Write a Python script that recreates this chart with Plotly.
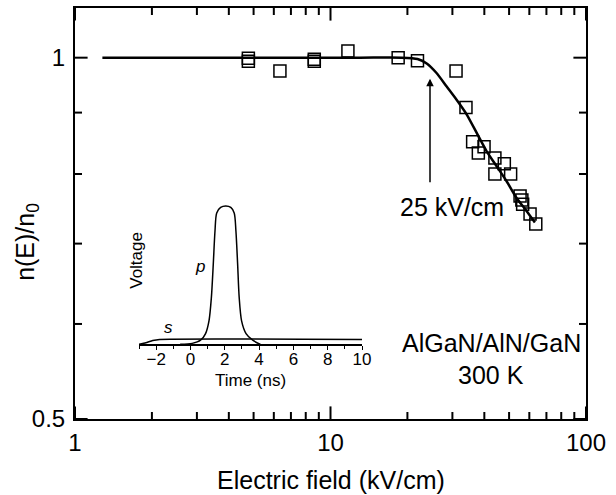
import math
import plotly.graph_objects as go

# ---- main data ----
E_data = [4.77, 4.77, 6.34, 8.64, 8.64, 11.7, 18.4, 21.9, 31.0, 33.9, 36.0, 37.9,
          39.9, 44.0, 44.0, 47.9, 50.7, 55.2, 56.1, 56.5, 60.4, 63.6]
n_data = [0.999, 0.993, 0.975, 0.997, 0.993, 1.013, 1.0, 0.994, 0.975, 0.909, 0.851, 0.833,
          0.843, 0.825, 0.800, 0.816, 0.800, 0.767, 0.761, 0.755, 0.741, 0.727]

E_fit = [1.28, 13.0, 19.0, 21.9, 23.8, 26.0, 28.5, 31.2, 34.1, 37.3, 40.8, 44.7, 48.9, 53.5, 58.6, 63.1]
n_fit = [1.0, 1.0, 1.0, 0.9975, 0.989, 0.971, 0.946, 0.922, 0.897, 0.866, 0.836, 0.812, 0.789, 0.764, 0.745, 0.729]

x_major = [1, 10, 100]
x_minor = [2, 3, 4, 5, 6, 7, 8, 9, 20, 30, 40, 50, 60, 70, 80, 90]
y_major = [0.5, 1]
y_minor = [0.6, 0.7, 0.8, 0.9]

# ---- inset data ----
t_p = [-0.6, 0.1, 0.59, 0.88, 1.08, 1.22, 1.33, 1.43, 1.53, 1.76, 2.06, 2.35, 2.55, 2.65,
       2.75, 2.84, 2.98, 3.24, 3.63, 4.08]
v_p = [0, 0.007, 0.03, 0.078, 0.17, 0.34, 0.58, 0.82, 0.95, 0.99, 1.0, 0.99, 0.95, 0.82,
       0.58, 0.34, 0.17, 0.078, 0.03, 0]
t_s = [-3, -2.6, -2.2, -1.8, 10]
v_s = [0, 0.012, 0.028, 0.036, 0.036]
t_ticks = [-2, 0, 2, 4, 6, 8, 10]

FONT = "Liberation Sans, Arial, sans-serif"

# pixel geometry helpers
L, R, T, B = 75, 586, 6, 419
W, H = 616, 495
def px(x):
    return (x - L) / (R - L)
def py(y):
    return (B - y) / (B - T)

X_MIN, X_MAX = 1, 100
Y_MIN, Y_MAX = 0.5, 1.10

fig = go.Figure()

fig.add_trace(go.Scatter(x=E_fit, y=n_fit, mode="lines",
                         line=dict(color="black", width=2.5, shape="spline", smoothing=0.6),
                         hoverinfo="skip", showlegend=False))
fig.add_trace(go.Scatter(x=E_data, y=n_data, mode="markers",
                         marker=dict(symbol="square-open", size=12, color="black",
                                     line=dict(width=1.5, color="black")),
                         showlegend=False))

# inward tick marks: line markers centred on the frame, clipped to the plot area
def tick_trace(xs, ys, symbol, size):
    return go.Scatter(x=xs, y=ys, mode="markers", cliponaxis=True,
                      marker=dict(symbol=symbol, size=size, color="black",
                                  line=dict(width=2, color="black")),
                      hoverinfo="skip", showlegend=False)

for vals, size in ((x_major, 18), (x_minor, 10)):
    fig.add_trace(tick_trace(vals, [Y_MIN] * len(vals), "line-ns-open", size))
    fig.add_trace(tick_trace(vals, [Y_MAX] * len(vals), "line-ns-open", size))
for vals, size in ((y_major, 18), (y_minor, 10)):
    fig.add_trace(tick_trace([X_MIN] * len(vals), vals, "line-ew-open", size))
    fig.add_trace(tick_trace([X_MAX] * len(vals), vals, "line-ew-open", size))

# inset traces
fig.add_trace(go.Scatter(x=t_p, y=v_p, mode="lines", xaxis="x2", yaxis="y2",
                         line=dict(color="black", width=1.5, shape="spline", smoothing=0.8),
                         showlegend=False))
fig.add_trace(go.Scatter(x=t_s, y=v_s, mode="lines", xaxis="x2", yaxis="y2",
                         line=dict(color="black", width=1.5, shape="spline", smoothing=0.5),
                         showlegend=False))

def main_axis(**kw):
    d = dict(type="log", showline=True, linecolor="black", linewidth=2, mirror=True,
             ticks="", showgrid=False, zeroline=False, tickformat="~g",
             tickfont=dict(family=FONT, size=24, color="black"))
    d.update(kw)
    return d

fig.update_layout(
    width=W, height=H,
    margin=dict(l=L, r=W - R, t=T, b=H - B),
    paper_bgcolor="white", plot_bgcolor="white",
    xaxis=main_axis(range=[math.log10(X_MIN), math.log10(X_MAX)], tickmode="linear",
                    tick0=0, dtick=1, ticklabelstandoff=1),
    yaxis=main_axis(range=[math.log10(Y_MIN), math.log10(Y_MAX)], tickmode="linear",
                    tick0=math.log10(Y_MIN), dtick=math.log10(2), ticklabelstandoff=3),
    xaxis2=dict(domain=[px(139), px(362)], anchor="y2", range=[-3, 10],
                showline=True, linecolor="black", linewidth=1.5, ticks="outside",
                tickcolor="black", tickwidth=1, ticklen=4, tickmode="array", tickvals=t_ticks,
                minor=dict(dtick=1, tick0=-3, ticks="outside", ticklen=3, tickcolor="black",
                           tickwidth=1, showgrid=False),
                showgrid=False, zeroline=False, ticklabelstandoff=-6,
                tickfont=dict(family=FONT, size=17, color="black")),
    yaxis2=dict(domain=[py(344), py(200)], anchor="x2", range=[0, (344 - 200) / (344 - 205)],
                visible=False),
)

ann_font = dict(family=FONT, size=25, color="black")
small_font = dict(family=FONT, size=17, color="black")
anns = [
    dict(text="Electric field (kV/cm)", x=px(331), y=py(480), font=ann_font),
    dict(text="n(E)/n<sub>0</sub>", x=px(27), y=py(241), font=ann_font, textangle=-90),
    dict(text="25 kV/cm", x=px(452), y=py(206), font=ann_font),
    dict(text="AlGaN/AlN/GaN", x=px(491), y=py(343), font=ann_font),
    dict(text="300 K", x=px(491), y=py(375), font=ann_font),
    dict(text="Time (ns)", x=px(250), y=py(380), font=small_font),
    dict(text="Voltage", x=px(137), y=py(260), font=small_font, textangle=-90),
    dict(text="<i>p</i>", x=px(200), y=py(266), font=small_font),
    dict(text="<i>s</i>", x=px(168), y=py(327), font=small_font),
]
for a in anns:
    fig.add_annotation(xref="paper", yref="paper", showarrow=False,
                       xanchor="center", yanchor="middle", **a)

fig.add_annotation(xref="paper", yref="paper", x=px(430), y=py(77), ax=0, ay=105,
                   showarrow=True, arrowhead=2, arrowsize=1, arrowwidth=1.5,
                   arrowcolor="black", text="")

fig.write_html("out.html")
